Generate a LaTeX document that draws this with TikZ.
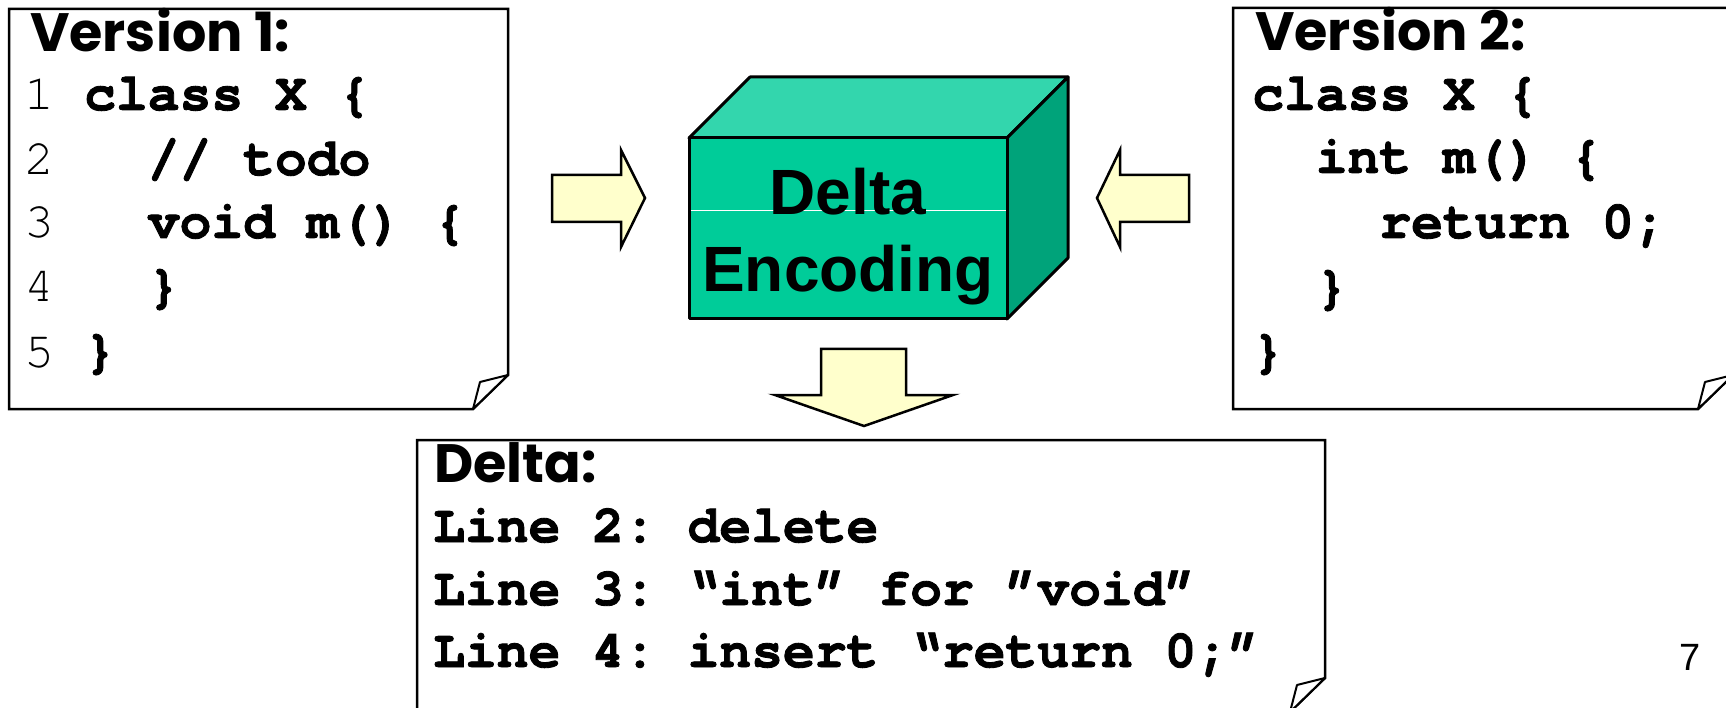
\documentclass[tikz,border=0pt]{standalone}
\usepackage{fontspec}
\newfontfamily\codefont[BoldFeatures={FakeBold=1.6}]{TeX Gyre Cursor}
\newfontfamily\handfont{Poppins}
\newfontfamily\labelfont{Liberation Sans}
\definecolor{arrowfill}{HTML}{FFFFCC}
\definecolor{cubefront}{HTML}{00CC99}
\definecolor{cubetop}{HTML}{33D6AD}
\definecolor{cubeside}{HTML}{00A37A}
\tikzset{
  doc/.style={draw=black, line width=2.5pt, fill=white, line join=miter},
  flap/.style={draw=black, line width=2pt, fill=white, line join=round},
  blockarrow/.style={draw=black, line width=2.5pt, fill=arrowfill, line join=miter},
  cubeface/.style={draw=black, line width=3pt, line join=round},
  code/.style={anchor=base west, inner sep=0pt, font=\codefont\fontsize{53}{60}\selectfont\bfseries},
  num/.style={anchor=base west, inner sep=0pt, font=\codefont\fontsize{50}{60}\selectfont},
  hand/.style={anchor=base west, inner sep=0pt, font=\handfont\fontsize{54}{60}\selectfont\bfseries},
  boxlabel/.style={anchor=base, inner sep=0pt, font=\labelfont\fontsize{64}{70}\selectfont\bfseries},
}
\begin{document}
\begin{tikzpicture}[x=1pt, y=-1pt]
\useasboundingbox (0,0) rectangle (1726,708);
\clip (0,0) rectangle (1726,708);

% first version of the file
\draw[doc] (9,9) -- (508,9) -- (508,375) -- (473,409) -- (9,409) -- cycle;
\draw[flap] (473,409) -- (480,382) -- (508,375) -- cycle;
\node[hand] (v1) at (30,52) {Version 1:};
\node[num] (n1) at (24,110) {1};
\node[num] (n2) at (24,175) {2};
\node[num] (n3) at (24,238) {3};
\node[num] (n4) at (24,302) {4};
\node[num] (n5) at (24,367) {5};
\node[code] (a1) at (84,110) {class~X~\{};
\node[code] (a2) at (84,175) {~~//~todo};
\node[code] (a3) at (84,238) {~~void~m()~\{};
\node[code] (a4) at (84,302) {~~\}};
\node[code] (a5) at (84,367) {\}};

% second version of the file
\draw[doc] (1233,8) -- (1733,8) -- (1733,375) -- (1698,409) -- (1233,409) -- cycle;
\draw[flap] (1698,409) -- (1705,382) -- (1733,375) -- cycle;
\node[hand] (v2) at (1255,51) {Version 2:};
\node[code] (b1) at (1252,110) {class~X~\{};
\node[code] (b2) at (1252,173) {~~int~m()~\{};
\node[code] (b3) at (1252,238) {~~~~return~0;};
\node[code] (b4) at (1252,303) {~~\}};
\node[code] (b5) at (1252,367) {\}};

% the encoder block
\draw[cubeface, fill=cubetop] (689,138) -- (750,77) -- (1068,77) -- (1007,138) -- cycle;
\draw[cubeface, fill=cubeside] (1007,138) -- (1068,77) -- (1068,258) -- (1007,319) -- cycle;
\node[cubeface, fill=cubefront, minimum width=318pt, minimum height=181pt, inner sep=0pt] (enc) at (848,228.5) {};
\draw[white, line width=1pt] (690.5,211) -- (1005.5,211);
\node[boxlabel] (enc1) at (848,215) {Delta};
\node[boxlabel] (enc2) at (848,292) {Encoding};

% block arrows into and out of the encoder
\draw[blockarrow] (552,175) -- (621,175) -- (621,150) -- (645,198) -- (621,247) -- (621,222) -- (552,222) -- cycle;
\draw[blockarrow] (1189,175) -- (1120,175) -- (1120,150) -- (1097,198) -- (1120,247) -- (1120,222) -- (1189,222) -- cycle;
\draw[blockarrow] (821,349) -- (906,349) -- (906,395) -- (953,395) -- (864,426) -- (775,395) -- (821,395) -- cycle;

% resulting delta
\draw[doc] (417,440) -- (1325,440) -- (1325,678) -- (1290,712) -- (417,712) -- cycle;
\draw[flap] (1290,712) -- (1297,685) -- (1325,678) -- cycle;
\node[hand] (dl) at (434,482) {Delta:};
\node[code] (d1) at (433,542) {Line~2:~delete};
\node[code] (d2) at (433,605) {Line~3:~“int”~for~”void”};
\node[code] (d3) at (433,667) {Line~4:~insert~“return~0;”};

% page number
\node[anchor=base west, inner sep=0pt, font=\labelfont\fontsize{38}{40}\selectfont] (pg) at (1679,670) {7};
\end{tikzpicture}
\end{document}
